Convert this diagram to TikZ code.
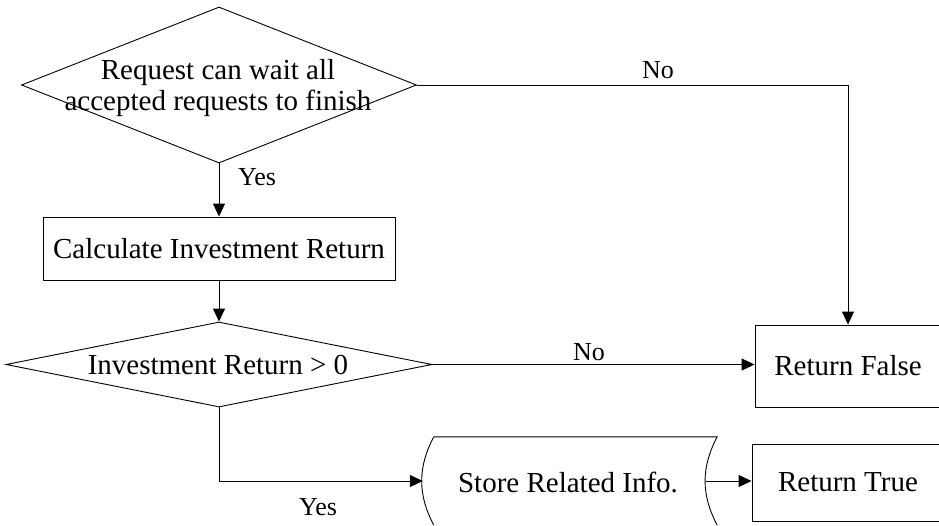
\documentclass[tikz,border=0pt]{standalone}
\usepackage{fontspec}
\setmainfont{Liberation Serif}
\usetikzlibrary{shapes.geometric,arrows.meta}

\tikzset{
  flow/.style={line width=0.9pt, draw=black},
  arrowline/.style={flow, -{Triangle[length=13pt,width=12pt]}},
  procbox/.style={flow, rectangle, inner sep=0pt},
  decision/.style={flow, diamond, inner sep=0pt},
  maintext/.style={font=\fontsize{29}{31}\selectfont, inner sep=0pt, align=center},
  branchlbl/.style={font=\fontsize{26}{28}\selectfont, inner sep=0pt, anchor=base},
}

\begin{document}
\begin{tikzpicture}[x=1pt,y=-1pt]
  \clip (0,0) rectangle (939,525);

  % decision: can the request wait
  \node[decision, minimum width=395pt, minimum height=156pt] (d1) at (219,85) {};
  \node[maintext] (q1) at (218,88.5) {Request can wait all\\accepted requests to finish};

  % processing step
  \node[procbox, draw, minimum width=352pt, minimum height=63pt] (calc) at (219,248.5)
    {\fontsize{29}{30}\selectfont Calculate Investment Return};

  % decision: positive return
  \node[decision, minimum width=426pt, minimum height=85pt] (d2) at (219,364.5) {};
  \node[maintext] (q2) at (218,365) {Investment Return > 0};

  % outcomes
  \node[procbox, draw, minimum width=186pt, minimum height=82pt] (rf) at (848,366)
    {\fontsize{29}{30}\selectfont Return False};
  \node[procbox, draw, minimum width=192pt, minimum height=77pt] (rt) at (848,482.5)
    {\fontsize{29}{30}\selectfont Return True};

  % stored-data step (outline drawn below)
  \node[rectangle, inner sep=0pt, minimum width=283pt, minimum height=88pt] (store) at (564.5,481) {};
  \node[maintext] (storetext) at (568,482) {Store Related Info.};
  \draw[flow] ([xshift=11pt]store.north west) to[bend right=28] ([xshift=11pt]store.south west);
  \draw[flow] ([xshift=11pt]store.north west) -- ([xshift=11pt]store.north east)
    to[bend right=28] ([xshift=11pt]store.south east);

  % connectors
  \draw[arrowline] (d1.east) -| (rf.north);
  \draw[arrowline] (d1.south) -- (calc.north);
  \draw[arrowline] (calc.south) -- (d2.north);
  \draw[arrowline] (d2.east) -- (d2.east -| rf.west);
  \draw[arrowline] (d2.south) |- (store.west);
  \draw[arrowline] (store.east) -- (store.east -| rt.west);

  % branch labels
  \node[branchlbl] (no1) at (658,78) {No};
  \node[branchlbl] (yes1) at (257,185) {Yes};
  \node[branchlbl] (no2) at (589,360) {No};
  \node[branchlbl] (yes2) at (318,515) {Yes};
\end{tikzpicture}
\end{document}
